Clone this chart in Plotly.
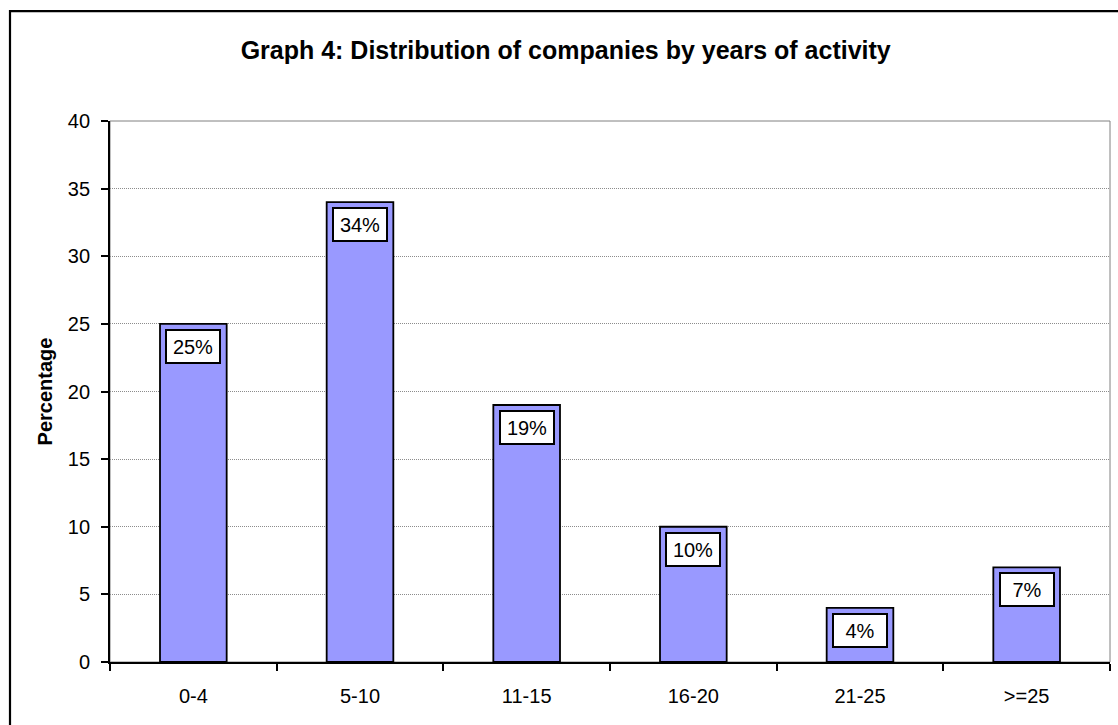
import plotly.graph_objects as go

# Distribution of companies by years of activity
categories = ["0-4", "5-10", "11-15", "16-20", "21-25", ">=25"]
percentages = [25, 34, 19, 10, 4, 7]
bar_labels = ["25%", "34%", "19%", "10%", "4%", "7%"]

font = "Liberation Sans, Arial, sans-serif"

fig = go.Figure(go.Bar(
    x=categories,
    y=percentages,
    width=0.4,
    marker=dict(color="#9999FF", line=dict(color="black", width=1.8)),
))

# value boxes inside the top of each bar
for cat, val, lab in zip(categories, percentages, bar_labels):
    fig.add_annotation(
        x=cat, y=val, text=lab, showarrow=False,
        yanchor="top", yshift=-5, width=46, height=25,
        font=dict(family=font, size=20, color="black"),
        bgcolor="white", bordercolor="black", borderwidth=2, borderpad=3,
    )

# plot area border (gray) and outer chart frame (black)
fig.add_shape(type="rect", xref="x domain", yref="y domain",
              x0=0, x1=1, y0=0, y1=1, line=dict(color="#808080", width=1),
              layer="below")
fig.add_shape(type="rect", xref="paper", yref="paper",
              x0=-0.1, x1=1.05, y0=-0.3, y1=1.203,
              line=dict(color="black", width=2.2))

fig.update_layout(
    width=1118, height=725,
    margin=dict(l=110, r=8, t=121, b=63),
    paper_bgcolor="white", plot_bgcolor="white",
    showlegend=False,
    font=dict(family=font, size=20, color="black"),
    title=dict(
        text="<b>Graph 4: Distribution of companies by years of activity</b>",
        x=0.506, xanchor="center", y=0.931, yanchor="middle",
        font=dict(family=font, size=25, color="black"),
    ),
)

fig.update_xaxes(
    type="category", tickson="boundaries",
    showline=True, linecolor="black", linewidth=1.8,
    ticks="outside", ticklen=7, tickcolor="black", tickwidth=1.5,
    showgrid=False, tickfont=dict(size=20), ticklabelstandoff=15,
)
fig.update_yaxes(
    range=[0, 40], dtick=5,
    showline=True, linecolor="black", linewidth=1.8,
    ticks="outside", ticklen=7, tickcolor="black", tickwidth=1.5,
    showgrid=True, gridcolor="#8c8c8c", gridwidth=1, griddash="1px,1px",
    zeroline=False, tickfont=dict(size=20), ticklabelstandoff=7,
    title=dict(text="<b>Percentage</b>", font=dict(size=20), standoff=10),
)

fig.write_html(
    "out.html",
    config={"displayModeBar": False},
    post_script="document.body.style.margin='0';document.body.style.overflow='hidden';",
)
